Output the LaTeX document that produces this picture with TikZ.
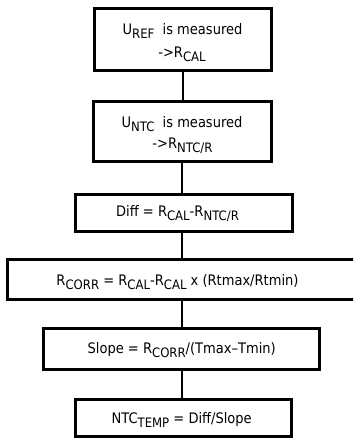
\documentclass[tikz,border=0pt]{standalone}
\usepackage{fontspec}
\setmainfont{DejaVu Sans Condensed}
\newcommand{\sbs}[1]{\raisebox{-4pt}{\fontsize{13}{13}\selectfont #1}}
\begin{document}
\begin{tikzpicture}[x=1pt,y=-1pt,
  box/.style={draw, line width=3pt, inner sep=0pt, outer sep=0pt, rectangle},
  txt/.style={font=\fontsize{14.5}{16}\selectfont, inner sep=0pt, anchor=base},
  link/.style={line width=2pt}]
\useasboundingbox (0,0) rectangle (353,438);
\node[box, minimum width=177.3pt, minimum height=61.6pt] (b1) at (182.65,39.5) {};
\node[box, minimum width=177.2pt, minimum height=60.7pt] (b2) at (182.4,131.65) {};
\node[box, minimum width=216.2pt, minimum height=37pt] (b3) at (183.9,212.5) {};
\begin{scope}
\clip (0,0) rectangle (353,438);
\node[box, minimum width=352.5pt, minimum height=39.2pt] (b4) at (183.75,279.4) {};
\end{scope}
\node[box, minimum width=276pt, minimum height=41.5pt] (b5) at (181.8,348.95) {};
\node[box, minimum width=215.7pt, minimum height=37.1pt] (b6) at (183.65,417.75) {};
\draw[link] (b1.south) -- (b1.south |- b2.north);
\draw[link] (b2.south) -- (b2.south |- b3.north);
\draw[link] (b2.south |- b3.south) -- (b2.south |- b4.north);
\draw[link] (b2.south |- b4.south) -- (b2.south |- b5.north);
\draw[link] (b2.south |- b5.south) -- (b2.south |- b6.north);
\node[txt] (t1a) at (182.5,35) {U\sbs{REF}\ \ is measured};
\node[txt] (t1b) at (182,58) {->R\sbs{CAL}};
\node[txt] (t2a) at (182,128) {U\sbs{NTC}\ \ is measured};
\node[txt] (t2b) at (182.5,149) {->R\sbs{NTC/R}};
\node[txt] (t3) at (177.5,216.7) {Diff = R\sbs{CAL}-R\sbs{NTC/R}};
\node[txt] (t4) at (177.5,285.5) {R\sbs{CORR} = R\sbs{CAL}-R\sbs{CAL} x (Rtmax/Rtmin)};
\node[txt] (t5) at (181.7,353) {Slope = R\sbs{CORR}/(Tmax--Tmin)};
\node[txt] (t6) at (181.7,423) {NTC\sbs{TEMP} = Diff/Slope};
\end{tikzpicture}
\end{document}
